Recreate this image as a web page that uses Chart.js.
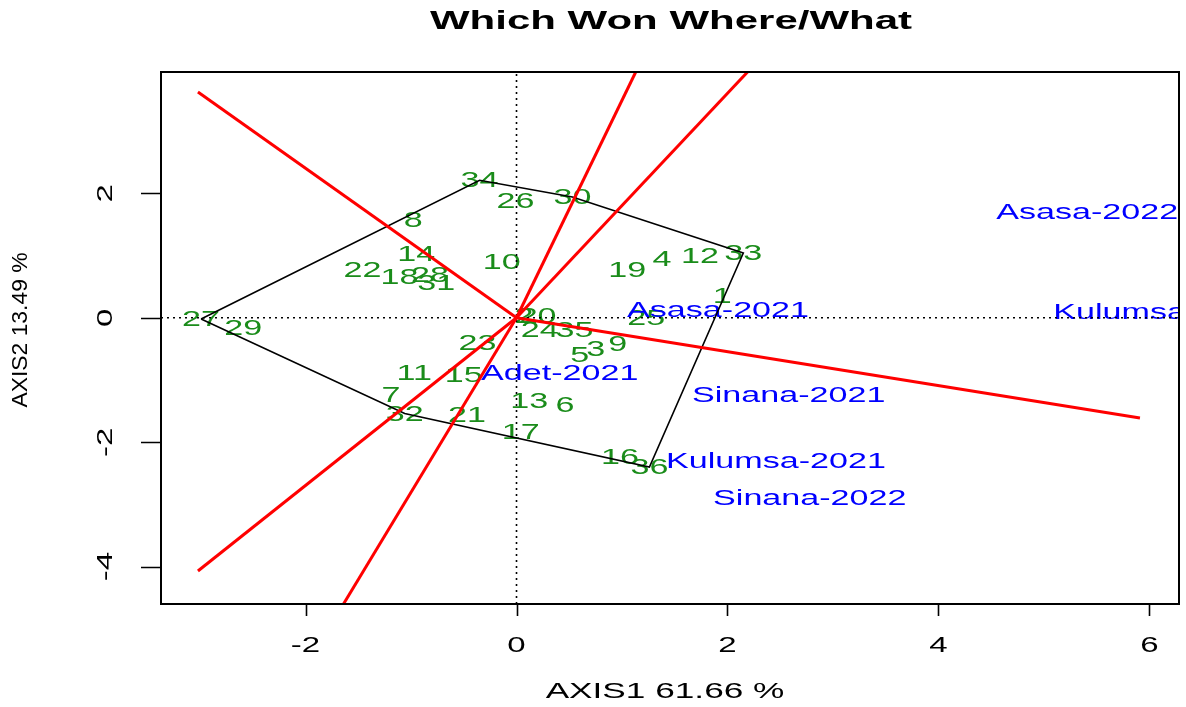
<!DOCTYPE html>
<html lang="en">
<head>
  <meta charset="UTF-8">
  <title>Which Won Where/What</title>
  <script src="https://cdn.jsdelivr.net/npm/chart.js"></script>
  <style>
    body {
      margin: 0;
      background: #fff;
    }
    #wrap {
      width: 1186px;
      height: 707px;
    }
  </style>
</head>
<body>
  <div id="wrap"><canvas id="gge"></canvas></div>
  <script>
    // genotype scores (green labels)
    const genotypes = ['1', '2', '3', '4', '5', '6', '7', '8', '9', '10', '11', '12',
      '13', '14', '15', '16', '17', '18', '19', '20', '21', '22', '23', '24',
      '25', '26', '27', '28', '29', '30', '31', '32', '33', '34', '35', '36'];
    const genoX = [1.95, 0.07, 0.75, 1.38, 0.60, 0.46, -1.19, -0.98, 0.96, -0.14, -0.97, 1.74,
      0.12, -0.95, -0.50, 0.98, 0.04, -1.11, 1.05, 0.20, -0.47, -1.46, -0.37, 0.22,
      1.23, -0.01, -2.99, -0.82, -2.59, 0.53, -0.76, -1.06, 2.15, -0.35, 0.55, 1.26];
    const genoY = [0.35, 0.03, -0.50, 0.94, -0.60, -1.40, -1.24, 1.57, -0.42, 0.90, -0.89, 0.99,
      -1.34, 1.02, -0.92, -2.24, -1.84, 0.65, 0.77, 0.03, -1.56, 0.77, -0.41, -0.20,
      0.00, 1.88, -0.02, 0.69, -0.16, 1.94, 0.56, -1.54, 1.04, 2.21, -0.20, -2.40];

    // environment scores (blue labels)
    const envNames = ['Asasa-2022', 'Kulumsa-2022', 'Asasa-2021', 'Adet-2021',
      'Sinana-2021', 'Kulumsa-2021', 'Sinana-2022'];
    const envX = [5.41, 6.13, 1.91, 0.41, 2.58, 2.46, 2.78];
    const envY = [1.70, 0.09, 0.12, -0.89, -1.24, -2.30, -2.90];

    // polygon vertices (genotype names, closed)
    const hullOrder = ['27', '34', '30', '33', '36', '32', '27'];

    // rays from the origin, perpendicular to the polygon sides
    const rayEndX = [-3.02, 1.13, 2.19, 5.91, -3.02, -1.64];
    const rayEndY = [3.63, 3.95, 3.95, -1.61, -4.07, -4.60];

    const xTicks = [-2, 0, 2, 4, 6];
    const yTicks = [-4, -2, 0, 2];
    const xLimits = [-3.37, 6.28];
    const yLimits = [-4.60, 3.95];

    const FONT = '"Liberation Sans", Arial, Helvetica, sans-serif';
    const GREEN = '#1a8c1a';

    const genoPoints = genotypes.map((g, i) => ({ x: genoX[i], y: genoY[i], label: g }));
    const envPoints = envNames.map((e, i) => ({ x: envX[i], y: envY[i], label: e }));
    const hullPoints = hullOrder.map(g => {
      const i = genotypes.indexOf(g);
      return { x: genoX[i], y: genoY[i] };
    });

    const datasets = [];
    rayEndX.forEach((ex, i) => {
      datasets.push({
        data: [{ x: 0, y: 0 }, { x: ex, y: rayEndY[i] }],
        showLine: true, borderColor: '#ff0000', borderWidth: 3,
        pointRadius: 0, clip: 0
      });
    });
    datasets.push({
      data: hullPoints, showLine: true, borderColor: '#000', borderWidth: 1.6,
      pointRadius: 0, clip: 0
    });
    datasets.push({
      data: [{ x: xLimits[0], y: 0 }, { x: xLimits[1], y: 0 }],
      showLine: true, borderColor: '#000', borderWidth: 1.6, borderDash: [2, 4],
      pointRadius: 0, clip: 0
    });
    datasets.push({
      data: [{ x: 0, y: yLimits[0] }, { x: 0, y: yLimits[1] }],
      showLine: true, borderColor: '#000', borderWidth: 1.6, borderDash: [2, 4],
      pointRadius: 0, clip: 0
    });
    datasets.push({ data: genoPoints, pointRadius: 0, labelColor: GREEN });
    datasets.push({ data: envPoints, pointRadius: 0, labelColor: '#0000ff' });

    // text drawn wide, like the original device font
    function wideText(ctx, text, x, y, font, color, sx, rotate) {
      ctx.save();
      ctx.translate(x, y);
      if (rotate) ctx.rotate(-Math.PI / 2);
      ctx.scale(sx, 1);
      ctx.font = font;
      ctx.fillStyle = color;
      ctx.textAlign = 'center';
      ctx.textBaseline = 'middle';
      ctx.fillText(text, 0, 0);
      ctx.restore();
    }

    const rPlot = {
      id: 'rPlot',
      beforeDatasetsDraw(chart) {
        const ctx = chart.ctx, a = chart.chartArea;
        const xs = chart.scales.x, ys = chart.scales.y;
        ctx.save();
        ctx.beginPath();
        ctx.rect(a.left, a.top, a.right - a.left, a.bottom - a.top);
        ctx.clip();
        chart.data.datasets.forEach(ds => {
          if (!ds.labelColor) return;
          ds.data.forEach(p => {
            wideText(ctx, p.label, xs.getPixelForValue(p.x), ys.getPixelForValue(p.y) + 1,
              '22px ' + FONT, ds.labelColor, 1.55, false);
          });
        });
        ctx.restore();
      },
      afterDraw(chart) {
        const ctx = chart.ctx, a = chart.chartArea;
        const xs = chart.scales.x, ys = chart.scales.y;
        ctx.save();
        ctx.strokeStyle = '#000';
        ctx.lineWidth = 2;
        ctx.strokeRect(a.left, a.top, a.right - a.left, a.bottom - a.top);
        ctx.lineWidth = 1.6;
        ctx.beginPath();
        xTicks.forEach(t => {
          const px = Math.round(xs.getPixelForValue(t)) + 0.5;
          ctx.moveTo(px, a.bottom);
          ctx.lineTo(px, a.bottom + 12);
        });
        yTicks.forEach(t => {
          const py = Math.round(ys.getPixelForValue(t)) + 0.5;
          ctx.moveTo(a.left, py);
          ctx.lineTo(a.left - 20, py);
        });
        ctx.stroke();
        ctx.restore();

        xTicks.forEach(t => {
          wideText(ctx, String(t), xs.getPixelForValue(t), 646,
            '22px ' + FONT, '#000', 1.5, false);
        });
        yTicks.forEach(t => {
          wideText(ctx, String(t), 106, ys.getPixelForValue(t),
            '22px ' + FONT, '#000', 1.5, true);
        });

        wideText(ctx, 'Which Won Where/What', 671, 22, 'bold 25px ' + FONT, '#000', 1.68, false);
        wideText(ctx, 'AXIS1 61.66 %', 665, 692, '22px ' + FONT, '#000', 1.6, false);
        wideText(ctx, 'AXIS2 13.49 %', 21, 330, '22px ' + FONT, '#000', 1.04, true);
      }
    };

    new Chart(document.getElementById('gge'), {
      type: 'scatter',
      data: { datasets: datasets },
      options: {
        responsive: true,
        maintainAspectRatio: false,
        animation: false,
        layout: { padding: { left: 161, top: 72, right: 7, bottom: 103 } },
        plugins: {
          legend: { display: false },
          tooltip: { enabled: false },
          title: { display: false }
        },
        scales: {
          x: { type: 'linear', display: false, min: xLimits[0], max: xLimits[1] },
          y: { type: 'linear', display: false, min: yLimits[0], max: yLimits[1] }
        }
      },
      plugins: [rPlot]
    });
  </script>
</body>
</html>
